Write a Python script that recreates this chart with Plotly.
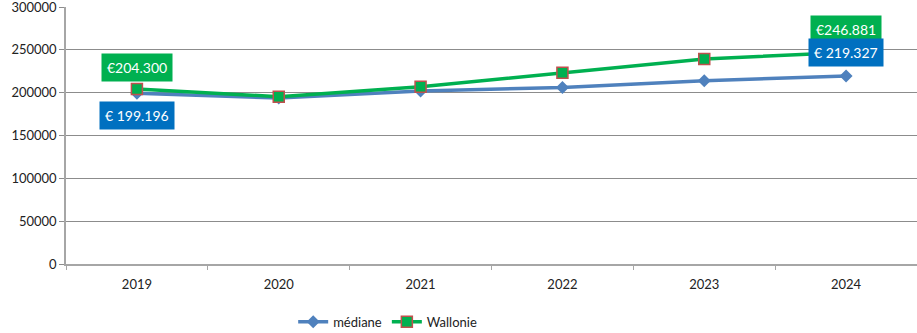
import plotly.graph_objects as go

years = ["2019", "2020", "2021", "2022", "2023", "2024"]
mediane = [199196, 193800, 202000, 206000, 214000, 219327]
wallonie = [204300, 195300, 207000, 223300, 239300, 246881]
y_ticks = [0, 50000, 100000, 150000, 200000, 250000, 300000]

FONT = "Lato"

fig = go.Figure()
fig.add_trace(go.Scatter(
    x=years, y=mediane, name="médiane", mode="lines+markers",
    line=dict(color="#4F81BD", width=3.5),
    marker=dict(symbol="diamond", size=10, color="#4F81BD"),
))
fig.add_trace(go.Scatter(
    x=years, y=wallonie, name="Wallonie", mode="lines+markers",
    line=dict(color="#00B050", width=3.5),
    marker=dict(symbol="square", size=11, color="#00B050",
                line=dict(color="#C0504D", width=1.5)),
))

annotations = [
    dict(x=0, y=wallonie[0], text="€204.300", bgcolor="#00B050", yshift=21),
    dict(x=0, y=mediane[0], text="€ 199.196", bgcolor="#0070C0", yshift=-22),
    dict(x=5, y=wallonie[5], text="€246.881", bgcolor="#00B050", yshift=23),
    dict(x=5, y=wallonie[5], text="€ 219.327", bgcolor="#0070C0", yshift=0),
]
for a in annotations:
    a.update(xref="x", yref="y", showarrow=False, borderpad=5,
             font=dict(color="white", size=14, family=FONT))

fig.update_layout(
    annotations=annotations,
    width=917, height=333,
    margin=dict(l=66, r=0, t=7, b=69, autoexpand=False),
    paper_bgcolor="white", plot_bgcolor="white",
    font=dict(family=FONT, size=13, color="#222"),
    showlegend=True,
    legend=dict(orientation="h", x=0.378, xanchor="center", y=-0.225, yanchor="middle",
                font=dict(size=13)),
    xaxis=dict(type="category", range=[-0.5, 5.5], showgrid=False,
               showline=True, linecolor="#A6A6A6", linewidth=1.5,
               ticks="outside", ticklen=4, tickcolor="#A6A6A6",
               tickson="boundaries", fixedrange=True, automargin=False,
               ticklabelstandoff=8),
    yaxis=dict(range=[0, 300000], tickvals=y_ticks, ticktext=[str(v) for v in y_ticks],
               showgrid=True, gridcolor="#8C8C8C", gridwidth=1,
               showline=True, linecolor="#A6A6A6", linewidth=1.5,
               ticks="outside", ticklen=5, tickcolor="#8C8C8C",
               zeroline=False, fixedrange=True, automargin=False,
               ticklabeloverflow="allow"),
)

fig.write_html("out.html", config={"displayModeBar": False},
               post_script="document.body.style.margin='0';")
